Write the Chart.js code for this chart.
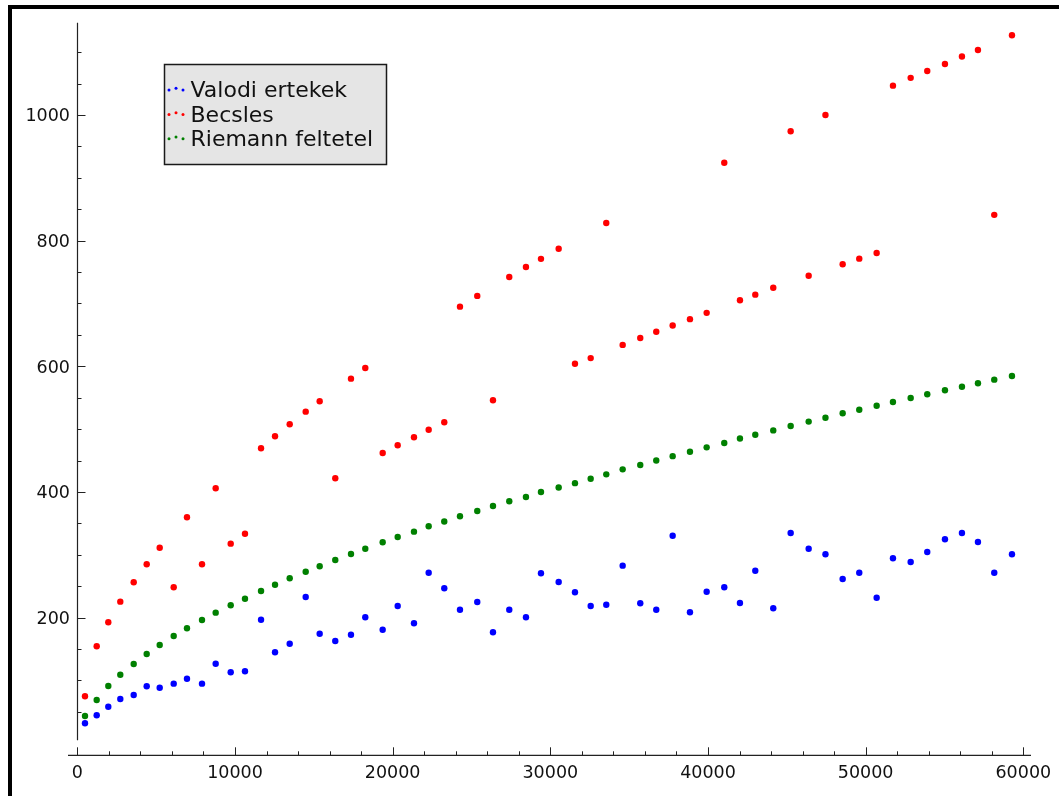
<!DOCTYPE html>
<html>
<head>
<meta charset="utf-8">
<script src="https://cdn.jsdelivr.net/npm/chart.js@4"></script>
<style>
  html, body { margin: 0; padding: 0; background: #fff; }
  canvas { display: block; }
</style>
</head>
<body>
<canvas id="chart" width="1059" height="796"></canvas>
<script>
// x positions shared by all three series
const xValues = [488, 1230, 1966, 2727, 3577, 4401, 5226, 6114, 6957, 7909,
  8777, 9729, 10636, 11653, 12540, 13471, 14486, 15373, 16362, 17358,
  18265, 19368, 20320, 21354, 22286, 23275, 24271, 25368, 26364, 27397,
  28456, 29408, 30530, 31564, 32560, 33549, 34589, 35705, 36720, 37760,
  38857, 39916, 41033, 42028, 43000, 44140, 45244, 46386, 47451, 48542,
  49595, 50698, 51732, 52855, 53907, 55030, 56108, 57123, 58157, 59280];

const valodi = [31.8, 44.6, 58.2, 70.5, 76.9, 90.7, 88.5, 94.9, 102.8, 94.9,
  126.7, 113, 114.6, 196.7, 144.8, 158.5, 232.8, 174.4, 162.8, 172.8,
  200.5, 180.8, 218.5, 191, 271.5, 246.7, 212.6, 224.9, 176.7, 212.6,
  200.5, 270.6, 256.7, 240.3, 218.5, 220.6, 282.7, 222.8, 212.6, 330.4,
  208.5, 241.3, 248.3, 223.3, 274.7, 214.9, 334.7, 309.7, 300.8, 261.5,
  271.5, 231.7, 294.4, 288.5, 304.5, 324.7, 334.7, 320.4, 271.5, 300.8];

const becsles = [74.8, 154.4, 192.6, 225.4, 256.2, 284.9, 311.3, 248.3, 359.7, 284.9,
  405.8, 317.7, 333.6, 469.5, 488.6, 507.7, 527.8, 544.3, 421.7, 580.3,
  597.3, 462, 474.3, 487, 499.1, 510.9, 694.9, 712, 546, 742,
  758, 771, 787, 604, 613, 828, 634, 645, 655, 665,
  675, 685, 924, 705, 714, 725, 974, 744, 1000, 762.3,
  771.3, 780.3, 1046.6, 1059, 1070, 1081, 1093, 1103.4, 841, 1126.8];

const riemann = [43.4, 68.9, 91.2, 109.2, 126.2, 142.1, 156.5, 170.8, 183.0, 196.2,
  207.9, 219.6, 230.1, 242.4, 252.4, 262.6, 273.1, 281.7, 291.7, 301.3,
  309.7, 319.9, 328.3, 336.8, 345.4, 353, 361.4, 369.7, 377.7, 385.1,
  392, 400, 407, 414, 421, 428, 436, 443, 450, 457,
  464, 471, 478, 485, 491, 498, 505, 512, 518.2, 525.2,
  530.9, 537.3, 543.2, 549.5, 555.4, 561.8, 567.5, 573, 578.7, 584.6];

const seriesNames = ["Valodi ertekek", "Becsles", "Riemann feltetel"];
const seriesColors = ["#0000ff", "#ff0000", "#008000"];

const xTickLabels = [0, 10000, 20000, 30000, 40000, 50000, 60000];
const yTickLabels = [200, 400, 600, 800, 1000];

const FONT = '"DejaVu Sans", sans-serif';

function toPoints(ys) {
  return ys.map((y, i) => ({ x: xValues[i], y: y }));
}

// sage-style axes: inward major/minor ticks, no grid
const sageAxes = {
  id: "sageAxes",
  beforeDraw(chart) {
    const ctx = chart.ctx;
    ctx.save();
    ctx.fillStyle = "#fff";
    ctx.fillRect(0, 0, chart.width, chart.height);
    // outer frame (only top and left edges are visible)
    ctx.fillStyle = "#000";
    ctx.fillRect(8, 5, chart.width - 8, 4);
    ctx.fillRect(8, 5, 4, chart.height - 5);
    ctx.restore();
  },
  afterDraw(chart) {
    const ctx = chart.ctx;
    const xs = chart.scales.x, ys = chart.scales.y;
    const area = chart.chartArea;
    const axisY = area.bottom;
    const axisX = Math.round(xs.getPixelForValue(0)) + 0.5;

    ctx.save();
    ctx.strokeStyle = "#222";
    ctx.lineWidth = 1.2;

    // x axis
    ctx.beginPath();
    ctx.moveTo(area.left, axisY);
    ctx.lineTo(area.right, axisY);
    // y axis
    ctx.moveTo(axisX, area.top);
    ctx.lineTo(axisX, ys.getPixelForValue(5));
    ctx.stroke();

    ctx.lineWidth = 1;
    ctx.beginPath();
    for (let v = 0; v <= 60000; v += 2000) {
      const px = Math.round(xs.getPixelForValue(v)) + 0.5;
      const len = v % 10000 === 0 ? 8 : 4;
      ctx.moveTo(px, axisY);
      ctx.lineTo(px, axisY - len);
    }
    for (let v = 50; v <= ys.max; v += 50) {
      const py = Math.round(ys.getPixelForValue(v)) + 0.5;
      const len = v % 200 === 0 ? 8 : 4;
      ctx.moveTo(axisX, py);
      ctx.lineTo(axisX + len, py);
    }
    ctx.stroke();

    ctx.fillStyle = "#111";
    ctx.font = "17.5px " + FONT;
    ctx.textBaseline = "alphabetic";
    ctx.textAlign = "center";
    xTickLabels.forEach(v => {
      ctx.fillText(String(v), xs.getPixelForValue(v), 777.7);
    });
    ctx.textAlign = "right";
    yTickLabels.forEach(v => {
      ctx.fillText(String(v), 70, ys.getPixelForValue(v) + 6.4);
    });

    // legend box
    const bx = 164.5, by = 64.5, bw = 222, bh = 100;
    ctx.fillStyle = "#e5e5e5";
    ctx.fillRect(bx, by, bw, bh);
    ctx.strokeStyle = "#1a1a1a";
    ctx.lineWidth = 1.5;
    ctx.strokeRect(bx, by, bw, bh);

    ctx.font = "22px " + FONT;
    ctx.textAlign = "left";
    const rowCenters = [89, 113.5, 137.8];
    seriesNames.forEach((name, i) => {
      const cy = rowCenters[i];
      ctx.fillStyle = seriesColors[i];
      [[169, 1], [176, -0.8], [183, 1]].forEach(([dx, dy]) => {
        ctx.beginPath();
        ctx.arc(dx, cy + dy, 1.5, 0, Math.PI * 2);
        ctx.fill();
      });
      ctx.fillStyle = "#111";
      ctx.fillText(name, 190.5, cy + 8);
    });
    ctx.restore();
  }
};

new Chart(document.getElementById("chart"), {
  type: "scatter",
  data: {
    datasets: seriesNames.map((name, i) => ({
      label: name,
      data: toPoints([valodi, becsles, riemann][i]),
      backgroundColor: seriesColors[i],
      borderColor: seriesColors[i],
      borderWidth: 0,
      pointRadius: 3.2,
      pointHoverRadius: 3.2,
      clip: false
    }))
  },
  options: {
    responsive: false,
    animation: false,
    devicePixelRatio: 1,
    layout: { padding: { left: 68, right: 28, top: 22.7, bottom: 40.7 } },
    scales: {
      x: { type: "linear", min: -590, max: 60487, display: false },
      y: { type: "linear", min: -19.1, max: 1146.8, display: false }
    },
    plugins: {
      legend: { display: false },
      tooltip: { enabled: false }
    }
  },
  plugins: [sageAxes]
});
</script>
</body>
</html>
